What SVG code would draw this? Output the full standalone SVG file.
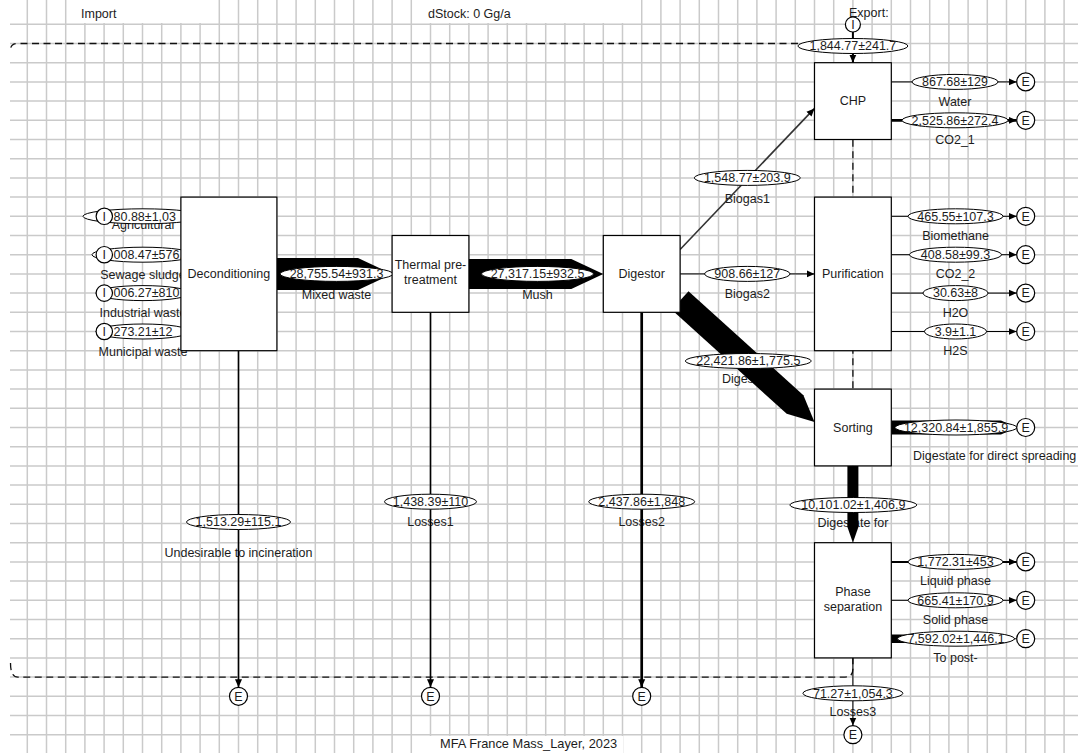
<svg xmlns="http://www.w3.org/2000/svg" width="1078" height="753" viewBox="0 0 1078 753">
<defs>
<style>
.t{font-family:"Liberation Sans",Arial,sans-serif;font-size:12.5px;fill:#1c1c1c;text-anchor:middle}
.ts{text-anchor:start}
.box{fill:#fff;stroke:#000;stroke-width:1.2}
.ell{fill:#fff;stroke:#000;stroke-width:1}
.cir{fill:#fff;stroke:#000;stroke-width:1.2}
.fl{fill:none;stroke:#000;marker-end:url(#ah)}
.band{fill:#000}
.bnd{fill:none;stroke:#111;stroke-width:1.3;stroke-dasharray:7 4.5}
.grid{stroke:#cacaca;stroke-width:1.5;fill:none}
</style>
<marker id="ah" viewBox="0 0 8 8" refX="8" refY="4" markerWidth="8" markerHeight="8" markerUnits="userSpaceOnUse" orient="auto"><path d="M0,0.5 L8,4 L0,7.5z" fill="#000"/></marker>
</defs>
<rect x="0" y="0" width="1078" height="753" fill="#fff"/>
<g id="grid">
<path class="grid" d="M27.3 0V753M46.5 0V753M65.7 0V753M84.9 0V753M104.1 0V753M123.3 0V753M142.5 0V753M161.7 0V753M180.9 0V753M200.1 0V753M219.3 0V753M238.5 0V753M257.7 0V753M276.9 0V753M296.1 0V753M315.3 0V753M334.5 0V753M353.7 0V753M372.9 0V753M392.1 0V753M411.3 0V753M430.5 0V753M449.7 0V753M468.9 0V753M488.1 0V753M507.3 0V753M526.5 0V753M545.7 0V753M564.9 0V753M584.1 0V753M603.3 0V753M622.5 0V753M641.7 0V753M660.9 0V753M680.1 0V753M699.3 0V753M718.5 0V753M737.7 0V753M756.9 0V753M776.1 0V753M795.3 0V753M814.5 0V753M833.7 0V753M852.9 0V753M872.1 0V753M891.3 0V753M910.5 0V753M929.7 0V753M948.9 0V753M968.1 0V753M987.3 0V753M1006.5 0V753M1025.7 0V753M1044.9 0V753M1064.1 0V753
M10 24.3H1078M10 43.5H1078M10 62.7H1078M10 81.9H1078M10 101.1H1078M10 120.3H1078M10 139.5H1078M10 158.7H1078M10 177.9H1078M10 197.1H1078M10 216.3H1078M10 235.5H1078M10 254.7H1078M10 273.9H1078M10 293.1H1078M10 312.3H1078M10 331.5H1078M10 350.7H1078M10 369.9H1078M10 389.1H1078M10 408.3H1078M10 427.5H1078M10 446.7H1078M10 465.9H1078M10 485.1H1078M10 504.3H1078M10 523.5H1078M10 542.7H1078M10 561.9H1078M10 581.1H1078M10 600.3H1078M10 619.5H1078M10 638.7H1078M10 657.9H1078M10 677.1H1078M10 696.3H1078M10 715.5H1078M10 734.7H1078"/>
</g>
<g id="titles">
<rect x="76" y="0" width="134" height="23" fill="#fff"/>
<rect x="413" y="0" width="228" height="23" fill="#fff"/>
<rect x="420" y="736" width="203" height="17" fill="#fff"/>
<text class="t ts" x="81" y="17.5">Import</text>
<text class="t ts" x="428" y="17.5">dStock: 0 Gg/a</text>
<text class="t ts" x="849" y="17">Export:</text>
<text class="t ts" x="440" y="748" style="font-size:12.8px">MFA France Mass_Layer, 2023</text>
</g>
<g id="system-boundary">
<path class="bnd" d="M798,43.5 H18 Q10.5,43.5 10.5,50 M10.5,663 Q10.5,677.1 18,677.1 H845 Q852.9,677.1 852.9,669 V43.5"/>
</g>
<g id="flow-labels">
<text class="t" x="143" y="229">Agricultural</text>
<text class="t" x="143" y="279">Sewage sludge</text>
<text class="t" x="143" y="317">Industrial waste</text>
<text class="t" x="143" y="356">Municipal waste</text>
<text class="t" x="336.5" y="298.5">Mixed waste</text>
<text class="t" x="537.5" y="298.5">Mush</text>
<text class="t" x="747.3" y="202.5">Biogas1</text>
<text class="t" x="747.3" y="298.3">Biogas2</text>
<text class="t" x="748.3" y="382.5">Digestate</text>
<text class="t" x="955" y="105.5">Water</text>
<text class="t" x="955" y="143.8">CO2_1</text>
<text class="t" x="955.5" y="239.8">Biomethane</text>
<text class="t" x="955.5" y="278.2">CO2_2</text>
<text class="t" x="955.5" y="316.6">H2O</text>
<text class="t" x="955.5" y="355">H2S</text>
<text class="t ts" x="913" y="460.3">Digestate for direct spreading</text>
<text class="t" x="853" y="527">Digestate for</text>
<text class="t" x="955.5" y="585.4">Liquid phase</text>
<text class="t" x="955.5" y="623.8">Solid phase</text>
<text class="t" x="955.5" y="662.2">To post-</text>
<text class="t" x="238.5" y="556.5">Undesirable to incineration</text>
<text class="t" x="430.5" y="526">Losses1</text>
<text class="t" x="641.7" y="526">Losses2</text>
<text class="t" x="852.9" y="716">Losses3</text>
</g>
<g id="connectors">
<line class="fl" x1="112.4" y1="216.3" x2="180.9" y2="216.3" stroke-width="1"/>
<line class="fl" x1="112.4" y1="254.7" x2="180.9" y2="254.7" stroke-width="1"/>
<line class="fl" x1="112.4" y1="293.1" x2="180.9" y2="293.1" stroke-width="1"/>
<line class="fl" x1="112.4" y1="331.5" x2="180.9" y2="331.5" stroke-width="1"/>
<polygon class="band" points="276.9,257.9 358,257.9 392.1,273.9 358,289.9 276.9,289.9"/>
<polygon class="band" points="468.9,258.9 571.3,258.9 603.3,273.9 571.3,288.9 468.9,288.9"/>
<line class="fl" x1="680.1" y1="249.5" x2="814.5" y2="108.4" stroke-width="1.6" style="stroke:#333"/>
<line class="fl" x1="680.1" y1="273.9" x2="814.5" y2="273.9" stroke-width="1"/>
<polygon class="band" points="688.5,291.2 803.4,395.2 814.5,422 786.7,413.7 671.7,309.8"/>
<line class="fl" x1="852.9" y1="32" x2="852.9" y2="62.7" stroke-width="2"/>
<line class="fl" x1="891.3" y1="81.9" x2="1016.7" y2="81.9" stroke-width="1"/>
<line class="fl" x1="891.3" y1="120.3" x2="1016.7" y2="120.3" stroke-width="2.8"/>
<line class="fl" x1="891.3" y1="216.3" x2="1016.7" y2="216.3" stroke-width="1"/>
<line class="fl" x1="891.3" y1="254.7" x2="1016.7" y2="254.7" stroke-width="1"/>
<line class="fl" x1="891.3" y1="293.1" x2="1016.7" y2="293.1" stroke-width="1"/>
<line class="fl" x1="891.3" y1="331.5" x2="1016.7" y2="331.5" stroke-width="1"/>
<polygon class="band" points="891.3,420.5 1001,420.5 1016.7,427.5 1001,434.5 891.3,434.5"/>
<polygon class="band" points="847.4,465.9 847.4,527 852.9,542.7 858.4,527 858.4,465.9"/>
<line class="fl" x1="891.3" y1="561.9" x2="1016.7" y2="561.9" stroke-width="2"/>
<line class="fl" x1="891.3" y1="600.3" x2="1016.7" y2="600.3" stroke-width="1"/>
<polygon class="band" points="891.3,634.5 1004,634.5 1016.7,638.7 1004,642.9 891.3,642.9"/>
<line class="fl" x1="852.9" y1="657.9" x2="852.9" y2="725.5" stroke-width="1"/>
<line class="fl" x1="238.5" y1="350.7" x2="238.5" y2="687.3" stroke-width="1.6"/>
<line class="fl" x1="430.5" y1="312.3" x2="430.5" y2="687.3" stroke-width="1.6"/>
<line class="fl" x1="641.7" y1="312.3" x2="641.7" y2="687.3" stroke-width="2.7"/>
</g>
<g id="flow-values">
<ellipse class="ell" cx="143" cy="216.3" rx="60" ry="7.5"/><text class="t ts" x="113.5" y="220.5">80.88±1,03</text>
<ellipse class="ell" cx="143" cy="254.7" rx="51" ry="7.5"/><text class="t ts" x="113.5" y="258.9">008.47±576.</text>
<ellipse class="ell" cx="143" cy="293.1" rx="47" ry="7.5"/><text class="t ts" x="113.5" y="297.3">006.27±810</text>
<ellipse class="ell" cx="143" cy="331.5" rx="47" ry="7.5"/><text class="t ts" x="113.5" y="335.7">273.21±12</text>
<ellipse class="ell" cx="852.9" cy="46" rx="55" ry="7.5"/><text class="t" x="852.9" y="50.2">1,844.77±241.7</text>
<ellipse class="ell" cx="955" cy="81.9" rx="43" ry="7.5"/><text class="t" x="955" y="86.1">867.68±129</text>
<ellipse class="ell" cx="955" cy="120.3" rx="53" ry="7.5"/><text class="t" x="955" y="124.5">2,525.86±272.4</text>
<ellipse class="ell" cx="747.3" cy="177.9" rx="53" ry="7.5"/><text class="t" x="747.3" y="182.1">1,548.77±203.9</text>
<ellipse class="ell" cx="955.5" cy="216.3" rx="47.5" ry="7.5"/><text class="t" x="955.5" y="220.5">465.55±107.3</text>
<ellipse class="ell" cx="955.5" cy="254.7" rx="46" ry="7.5"/><text class="t" x="955.5" y="258.9">408.58±99.3</text>
<ellipse class="ell" cx="747.3" cy="273.9" rx="42.7" ry="7.5"/><text class="t" x="747.3" y="278.1">908.66±127</text>
<ellipse class="ell" cx="336.5" cy="273.9" rx="56.5" ry="7.5"/><text class="t" x="336.5" y="278.1">28,755.54±931.3</text>
<ellipse class="ell" cx="537.5" cy="273.9" rx="56" ry="7.5"/><text class="t" x="537.5" y="278.1">27,317.15±932.5</text>
<ellipse class="ell" cx="955.5" cy="293.1" rx="32.5" ry="7.5"/><text class="t" x="955.5" y="297.3">30.63±8</text>
<ellipse class="ell" cx="955.5" cy="331.5" rx="31" ry="7.5"/><text class="t" x="955.5" y="335.7">3.9±1.1</text>
<ellipse class="ell" cx="748.3" cy="361" rx="63" ry="7.5"/><text class="t" x="748.3" y="365.2">22,421.86±1,775.5</text>
<ellipse class="ell" cx="956" cy="427.5" rx="61" ry="7.5"/><text class="t" x="956" y="431.7">12,320.84±1,855.9</text>
<ellipse class="ell" cx="853.3" cy="505" rx="63.5" ry="7.5"/><text class="t" x="853.3" y="509.2">10,101.02±1,406.9</text>
<ellipse class="ell" cx="955.5" cy="561.9" rx="47.5" ry="7.5"/><text class="t" x="955.5" y="566.1">1,772.31±453</text>
<ellipse class="ell" cx="955.5" cy="600.3" rx="47.5" ry="7.5"/><text class="t" x="955.5" y="604.5">665.41±170.9</text>
<ellipse class="ell" cx="956" cy="638.7" rx="58.5" ry="7.5"/><text class="t" x="956" y="642.9">7,592.02±1,446.1</text>
<ellipse class="ell" cx="852.9" cy="693.3" rx="50" ry="7.5"/><text class="t" x="852.9" y="697.5">71.27±1,054.3</text>
<ellipse class="ell" cx="238.5" cy="522" rx="52" ry="7.5"/><text class="t" x="238.5" y="526.2">1,513.29±115.1</text>
<ellipse class="ell" cx="430.5" cy="501.7" rx="46" ry="7.5"/><text class="t" x="430.5" y="505.9">1,438.39±110</text>
<ellipse class="ell" cx="641.7" cy="501.7" rx="53" ry="7.5"/><text class="t" x="641.7" y="505.9">2,437.86±1,848</text>
</g>
<g id="node-deconditioning"><rect class="box" x="180.9" y="197.1" width="96" height="153.6"/><text class="t" x="228.9" y="278.2">Deconditioning</text></g>
<g id="node-thermal"><rect class="box" x="392.1" y="235.5" width="76.8" height="76.8"/><text class="t" x="430.5" y="269.2">Thermal pre-</text><text class="t" x="430.5" y="284.2">treatment</text></g>
<g id="node-digestor"><rect class="box" x="603.3" y="235.5" width="76.8" height="76.8"/><text class="t" x="641.7" y="278.2">Digestor</text></g>
<g id="node-chp"><rect class="box" x="814.5" y="62.7" width="76.8" height="76.8"/><text class="t" x="852.9" y="105.4">CHP</text></g>
<g id="node-purification"><rect class="box" x="814.5" y="197.1" width="76.8" height="153.6"/><text class="t" x="852.9" y="278.2">Purification</text></g>
<g id="node-sorting"><rect class="box" x="814.5" y="389.1" width="76.8" height="76.8"/><text class="t" x="852.9" y="431.8">Sorting</text></g>
<g id="node-phase-separation"><rect class="box" x="814.5" y="542.7" width="76.8" height="115.2"/><text class="t" x="852.9" y="596">Phase</text><text class="t" x="852.9" y="611">separation</text></g>
<g id="import-agricultural"><circle class="cir" cx="104.3" cy="216.3" r="8.2"/><text class="t" x="104.3" y="220.5">I</text></g>
<g id="import-sewage"><circle class="cir" cx="104.3" cy="254.7" r="8.2"/><text class="t" x="104.3" y="258.9">I</text></g>
<g id="import-industrial"><circle class="cir" cx="104.3" cy="293.1" r="8.2"/><text class="t" x="104.3" y="297.3">I</text></g>
<g id="import-municipal"><circle class="cir" cx="104.3" cy="331.5" r="8.2"/><text class="t" x="104.3" y="335.7">I</text></g>
<g id="import-chp"><circle class="cir" cx="852.9" cy="24.5" r="7.5"/><text class="t" x="852.9" y="28.7">I</text></g>
<g id="export-water"><circle class="cir" cx="1025.7" cy="81.9" r="9"/><text class="t" x="1025.7" y="86.1">E</text></g>
<g id="export-co2-1"><circle class="cir" cx="1025.7" cy="120.3" r="9"/><text class="t" x="1025.7" y="124.5">E</text></g>
<g id="export-biomethane"><circle class="cir" cx="1025.7" cy="216.3" r="9"/><text class="t" x="1025.7" y="220.5">E</text></g>
<g id="export-co2-2"><circle class="cir" cx="1025.7" cy="254.7" r="9"/><text class="t" x="1025.7" y="258.9">E</text></g>
<g id="export-h2o"><circle class="cir" cx="1025.7" cy="293.1" r="9"/><text class="t" x="1025.7" y="297.3">E</text></g>
<g id="export-h2s"><circle class="cir" cx="1025.7" cy="331.5" r="9"/><text class="t" x="1025.7" y="335.7">E</text></g>
<g id="export-spreading"><circle class="cir" cx="1025.7" cy="427.5" r="9"/><text class="t" x="1025.7" y="431.7">E</text></g>
<g id="export-liquid"><circle class="cir" cx="1025.7" cy="561.9" r="9"/><text class="t" x="1025.7" y="566.1">E</text></g>
<g id="export-solid"><circle class="cir" cx="1025.7" cy="600.3" r="9"/><text class="t" x="1025.7" y="604.5">E</text></g>
<g id="export-post"><circle class="cir" cx="1025.7" cy="638.7" r="9"/><text class="t" x="1025.7" y="642.9">E</text></g>
<g id="export-losses3"><circle class="cir" cx="852.9" cy="734.7" r="9"/><text class="t" x="852.9" y="738.9">E</text></g>
<g id="export-undesirable"><circle class="cir" cx="238.5" cy="696.3" r="9"/><text class="t" x="238.5" y="700.5">E</text></g>
<g id="export-losses1"><circle class="cir" cx="430.5" cy="696.3" r="9"/><text class="t" x="430.5" y="700.5">E</text></g>
<g id="export-losses2"><circle class="cir" cx="641.7" cy="696.3" r="9"/><text class="t" x="641.7" y="700.5">E</text></g>
</svg>
